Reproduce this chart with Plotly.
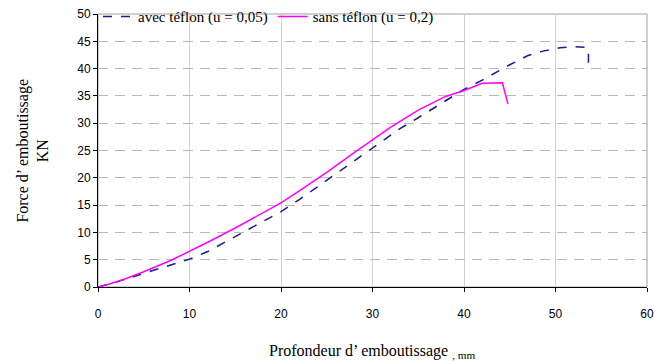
import plotly.graph_objects as go

# avec téflon (u = 0,05)
x_avec = [0, 2, 5, 8, 10, 12, 15, 18, 20, 22, 25, 28, 30, 33, 35, 38, 40, 42, 45, 47, 48.6, 50.5, 52, 53.4, 53.6, 53.6]
y_avec = [0, 0.9, 2.5, 4.0, 5.1, 6.5, 9.2, 12.0, 13.8, 16.0, 19.5, 23.0, 25.5, 29.0, 31.0, 34.2, 36.2, 37.9, 40.7, 42.4, 43.2, 43.8, 44.0, 43.9, 43.4, 41.0]

# sans téflon (u = 0,2)
x_sans = [0, 1, 3, 5, 8, 10, 12, 15, 18, 20, 22, 25, 28, 30, 32, 35, 38, 40, 42, 44.2, 44.3, 44.7, 44.8]
y_sans = [0, 0.4, 1.5, 2.8, 4.9, 6.5, 8.2, 10.8, 13.5, 15.4, 17.6, 21.0, 24.6, 27.0, 29.3, 32.4, 34.9, 36.0, 37.3, 37.4, 36.8, 34.2, 33.5]

x_ticks = [0, 10, 20, 30, 40, 50, 60]
y_ticks = [0, 5, 10, 15, 20, 25, 30, 35, 40, 45, 50]

serif = "Liberation Serif"
sans = "Liberation Sans"

fig = go.Figure()
fig.add_trace(go.Scatter(x=x_avec, y=y_avec, mode="lines", name="avec téflon (u = 0,05)",
                         line=dict(color="#1a1a8c", width=1.5, dash="dash")))
fig.add_trace(go.Scatter(x=x_sans, y=y_sans, mode="lines", name="sans téflon (u = 0,2)",
                         line=dict(color="#ff00ff", width=1.5)))

fig.add_shape(type="rect", xref="paper", yref="paper", x0=0, y0=0, x1=1, y1=1,
              line=dict(color="#a0a0a0", width=1), layer="below")

fig.add_annotation(text="Force d’ emboutissage<br>KN", xref="paper", yref="paper",
                   x=-0.12, y=0.5, xanchor="center", yanchor="middle", textangle=-90,
                   showarrow=False, font=dict(family=serif, size=16, color="black"))
fig.add_annotation(text="Profondeur d’ emboutissage <sub>, mm</sub>", xref="paper", yref="paper",
                   x=0.5, y=-0.235, xanchor="center", yanchor="middle",
                   showarrow=False, font=dict(family=serif, size=16, color="black"))

fig.update_layout(
    width=654, height=364,
    margin=dict(l=98, r=7, t=14, b=77, autoexpand=False),
    paper_bgcolor="white", plot_bgcolor="white",
    showlegend=True,
    legend=dict(orientation="h", x=0.0, y=1.05, xanchor="left", yanchor="top",
                bgcolor="rgba(0,0,0,0)", font=dict(family=serif, size=15, color="black"),
                itemwidth=30, tracegroupgap=0),
    xaxis=dict(range=[0, 60], tickvals=x_ticks, showgrid=True, gridcolor="#d0d0d0", gridwidth=1,
               showline=True, linecolor="black", linewidth=1, ticks="outside", ticklen=4,
               tickcolor="black", zeroline=False, automargin=False, ticklabelstandoff=12,
               tickfont=dict(family=sans, size=12, color="black")),
    yaxis=dict(range=[0, 50], tickvals=y_ticks, showgrid=True, gridcolor="#b8b8b8", gridwidth=1,
               griddash="10px,7px", showline=True, linecolor="black", linewidth=1, ticks="outside",
               ticklen=4, tickcolor="black", zeroline=False, automargin=False,
               tickfont=dict(family=sans, size=12, color="black")),
)

fig.write_html("out.html", config={"displayModeBar": False},
               post_script="document.body.style.margin='0';")
